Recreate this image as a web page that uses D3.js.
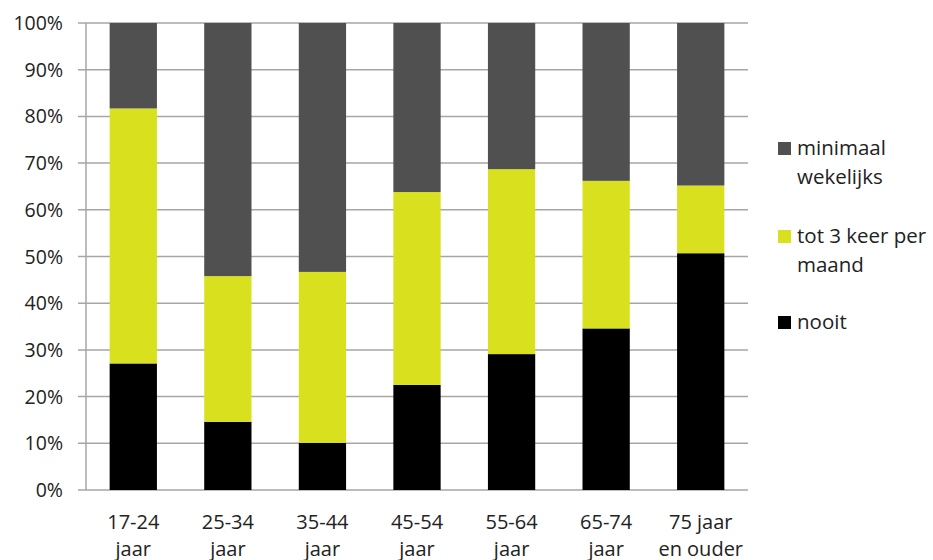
<!DOCTYPE html>
<html><head><meta charset="utf-8">
<script src="https://cdn.jsdelivr.net/npm/d3@7"></script>
<style>body{margin:0;background:#fff}svg{display:block}text{font-family:"Open Sans","Noto Sans",sans-serif;fill:#222}</style>
</head><body><svg id="c" width="933" height="560"></svg>
<script>
const categories = [["17-24","jaar"],["25-34","jaar"],["35-44","jaar"],["45-54","jaar"],["55-64","jaar"],["65-74","jaar"],["75 jaar","en ouder"]];
const nooit = [27.1, 14.6, 10.1, 22.5, 29.1, 34.6, 50.7];
const tot3 = [54.6, 31.2, 36.6, 41.3, 39.6, 31.6, 14.5];
const minimaal = [18.3, 54.2, 53.3, 36.2, 31.3, 33.8, 34.8];
const seriesNames = ["nooit","tot 3 keer per maand","minimaal wekelijks"];
const legendLines = [["minimaal","wekelijks"],["tot 3 keer per","maand"],["nooit"]];
const yTicks = [0,10,20,30,40,50,60,70,80,90,100];
const colors = ["#000000","#d9e11f","#505050"];

const svg = d3.select("#c");
const m = {l:86, r:748, t:23, b:490};
const x = d3.scaleBand().domain(d3.range(categories.length)).range([m.l,m.r]).paddingInner(0.5).paddingOuter(0.25);
const y = d3.scaleLinear().domain([0,100]).range([m.b,m.t]);

const rows = categories.map((c,i)=>({i, nooit:nooit[i], tot3:tot3[i], minimaal:minimaal[i]}));
const stack = d3.stack().keys(["nooit","tot3","minimaal"])(rows);

svg.append("g").selectAll("line").data(yTicks).join("line")
  .attr("x1",m.l-8).attr("x2",m.r).attr("y1",d=>y(d)).attr("y2",d=>y(d))
  .attr("stroke","#a6a6a6").attr("stroke-width",1.5);
svg.append("line").attr("x1",m.l).attr("x2",m.l).attr("y1",m.t).attr("y2",m.b).attr("stroke","#a6a6a6").attr("stroke-width",1.5);

svg.append("g").selectAll("g").data(stack).join("g").attr("fill",(d,i)=>colors[i])
  .selectAll("rect").data(d=>d).join("rect")
  .attr("x",d=>x(d.data.i)).attr("width",x.bandwidth())
  .attr("y",d=>y(Math.min(100,d[1]))).attr("height",d=>y(d[0])-y(Math.min(100,d[1])));

svg.append("g").selectAll("text").data(yTicks).join("text")
  .attr("x",m.l-23).attr("y",d=>y(d)).attr("dy","0.36em").attr("text-anchor","end")
  .attr("font-size",19.5).text(d=>d+"%");

const cl = svg.append("g").selectAll("text").data(categories).join("text")
  .attr("text-anchor","middle").attr("font-size",20)
  .attr("transform",(d,i)=>`translate(${x(i)+x.bandwidth()/2},529)`);
cl.selectAll("tspan").data(d=>d).join("tspan").attr("x",0).attr("y",(d,j)=>j*27).text(d=>d);

const legY = [155, 243, 329];
const lg = svg.append("g").selectAll("g").data(legendLines).join("g")
  .attr("transform",(d,i)=>`translate(778,${legY[i]})`);
lg.append("rect").attr("x",0).attr("y",-13).attr("width",13).attr("height",13).attr("fill",(d,i)=>colors[2-i]);
lg.append("text").attr("font-size",20.5)
  .selectAll("tspan").data(d=>d).join("tspan").attr("x",19).attr("y",(d,j)=>j*28.5).text(d=>d);
</script></body></html>
